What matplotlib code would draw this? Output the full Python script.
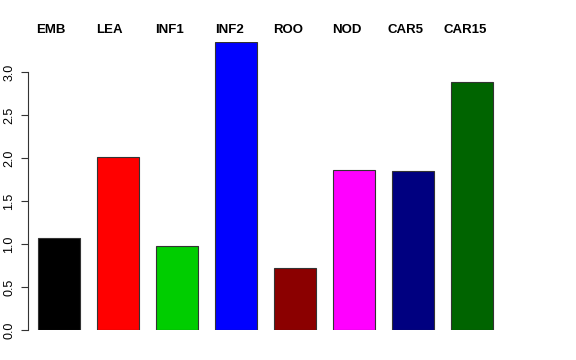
import matplotlib
matplotlib.use('Agg')
import matplotlib.pyplot as plt
import numpy as np

plt.rcParams['font.family'] = ['Liberation Sans', 'DejaVu Sans']

# Values
groups = ['EMB', 'LEA', 'INF1', 'INF2', 'ROO', 'NOD', 'CAR5', 'CAR15']
values = [1.07, 2.01, 0.98, 3.35, 0.72, 1.86, 1.85, 2.88]
colors = ['black', 'red', '#00CD00', 'blue', '#8B0000', 'magenta', '#000080', '#006400']

W, H = 576, 360
fig = plt.figure(figsize=(W / 100, H / 100), dpi=100)
# axes placed in pixel terms: spine at x=28, zero line at y=330, top at y=42
ax = fig.add_axes([28 / W, 30 / H, (560 - 28) / W, (330 - 42) / H])

x = np.arange(len(groups))
ax.bar(x, values, width=0.71, color=colors, edgecolor='#333333', linewidth=0.8)

ax.set_xlim(-0.525, (560 - 59) / 59)
ax.set_ylim(0, 3.35)
ax.set_yticks(np.arange(0, 3.01, 0.5))
ax.set_yticklabels(['%.1f' % v for v in np.arange(0, 3.01, 0.5)], rotation=90, va='center', fontsize=9)
ax.tick_params(axis='y', length=5, width=0.8, color='#333333', pad=4)
ax.set_xticks([])
for s in ['top', 'right', 'bottom']:
    ax.spines[s].set_visible(False)
ax.spines['left'].set_bounds(0, 3.0)
ax.spines['left'].set_color('#333333')
ax.spines['left'].set_linewidth(0.8)

# group names along the top, left edge positions in pixels
label_px = [36, 96, 155, 215, 273, 332, 387, 443]
for name, px in zip(groups, label_px):
    fig.text(px / W, 1 - 30 / H, name, ha='left', va='center', fontsize=9.5, fontweight='bold')

fig.savefig('out.png', dpi=100)
